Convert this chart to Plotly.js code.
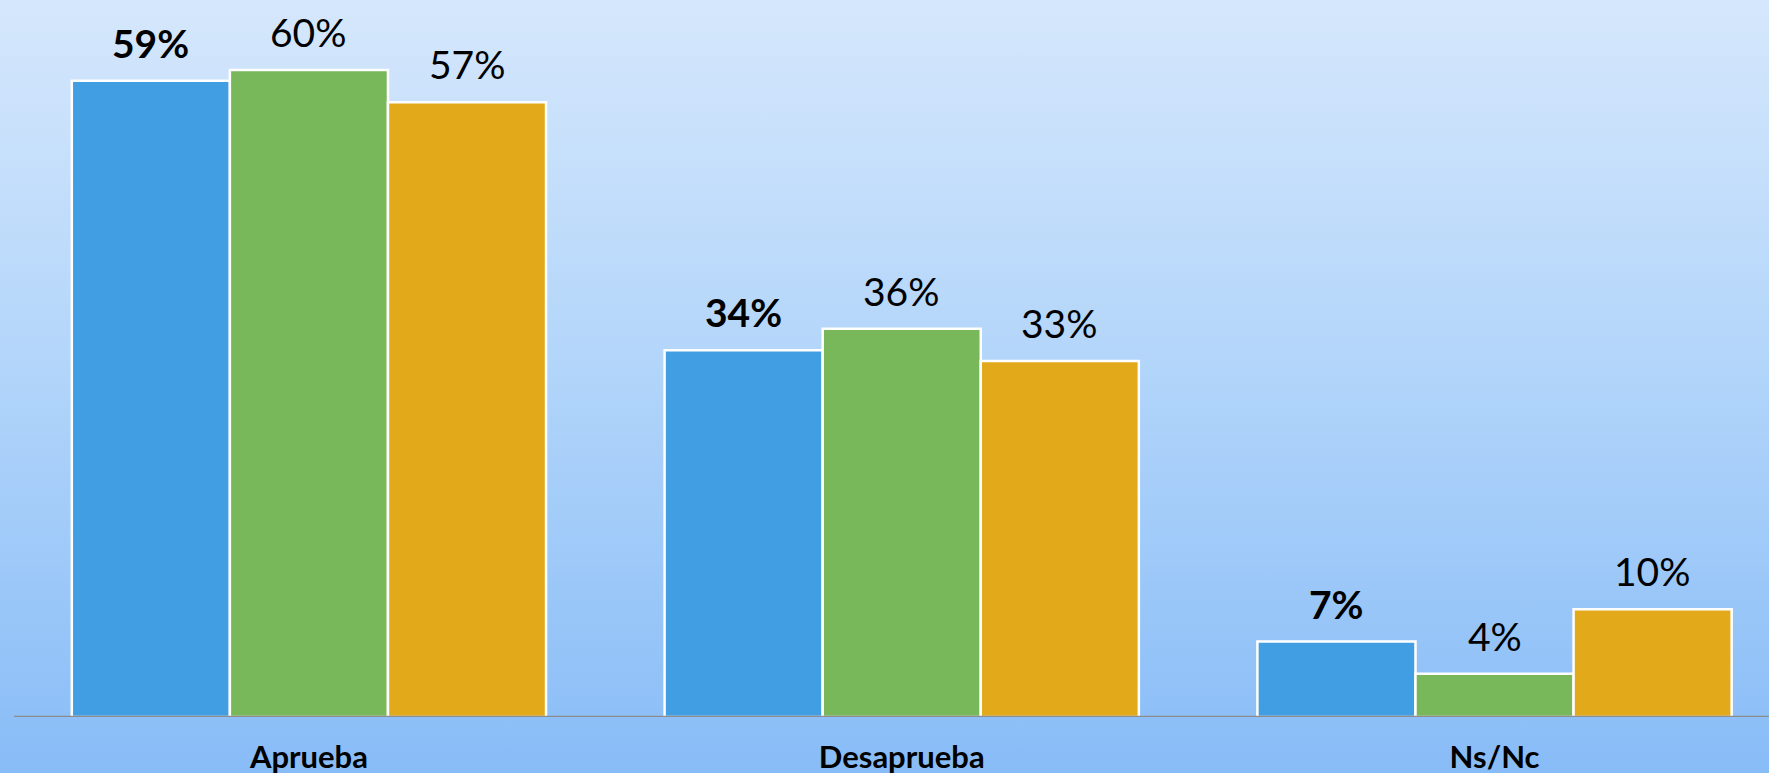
<!DOCTYPE html>
<html>
<head>
<meta charset="utf-8">
<script src="https://cdn.plot.ly/plotly-3.0.1.min.js"></script>
<style>
html, body { margin:0; padding:0; width:1769px; height:773px; overflow:hidden;
  background: linear-gradient(to bottom, #d5e7fc 0%, #b4d6fa 45%, #88bcf7 100%); }
#chart { width:1769px; height:773px; }
</style>
</head>
<body>
<div id="chart"></div>
<script>
const categories = ["Aprueba", "Desaprueba", "Ns/Nc"];
const series1 = [59, 34, 7];
const series2 = [60, 36, 4];
const series3 = [57, 33, 10];
const seriesNames = ["Serie 1", "Serie 2", "Serie 3"];
const colors = ["#419ee3", "#78b75a", "#e2a91b"];
const allSeries = [series1, series2, series3];
const boldSeries = [true, false, false];

const BARGAP = 0.2;
const FONT = "Lato, 'Open Sans', sans-serif";

const data = allSeries.map((vals, s) => ({
  type: "bar", x: categories, y: vals, name: seriesNames[s],
  marker: { color: colors[s], line: { color: "#ffffff", width: 2.5 } },
  hoverinfo: "none"
}));

// value labels placed above each bar, positioned from the category index and group geometry
const nS = allSeries.length;
const barW = (1 - BARGAP) / nS;
const annotations = [];
allSeries.forEach((vals, s) => {
  vals.forEach((v, i) => {
    annotations.push({
      xref: "x", yref: "y",
      x: i + (s - (nS - 1) / 2) * barW, y: v,
      text: boldSeries[s] ? "<b>" + v + "%</b>" : v + "%",
      showarrow: false, yanchor: "bottom", xanchor: "center", yshift: 13,
      font: { family: FONT, size: 39, color: "#000000" }
    });
  });
});

const layout = {
  width: 1769, height: 773,
  paper_bgcolor: "rgba(0,0,0,0)", plot_bgcolor: "rgba(0,0,0,0)",
  margin: { l: 13.5, r: 0, t: 5, b: 55.5 },
  barmode: "group", bargap: BARGAP, bargroupgap: 0,
  showlegend: false,
  xaxis: {
    range: [-0.4975, 2.463], showgrid: false, zeroline: false,
    showline: false, ticks: "",
    tickfont: { family: FONT, size: 31, color: "#000000", weight: "bold" },
    ticklabelstandoff: 19
  },
  yaxis: {
    range: [0, 66.02], visible: false, showgrid: false, zeroline: false, fixedrange: true
  },
  annotations: annotations,
  shapes: [{
    type: "line", xref: "paper", yref: "y", x0: 0, x1: 1, y0: 0, y1: 0,
    line: { color: "#8c8c8c", width: 2.5 }, layer: "above"
  }]
};

Plotly.newPlot("chart", data, layout, { displayModeBar: false, staticPlot: true });
</script>
</body>
</html>
